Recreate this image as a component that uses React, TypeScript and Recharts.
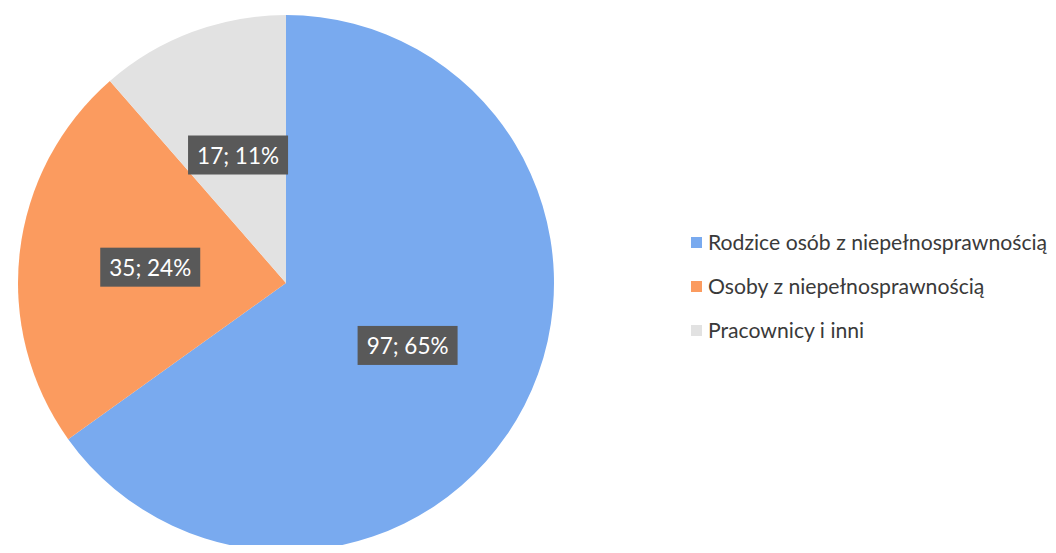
import React from "react";
import { PieChart, Pie, Cell, Legend } from "recharts";

const categories = [
  "Rodzice osób z niepełnosprawnością",
  "Osoby z niepełnosprawnością",
  "Pracownicy i inni",
];
const counts = [97, 35, 17];
const percents = [65, 24, 11];
const colors = ["#79AAEF", "#FB9B5F", "#E2E2E2"];

const data = categories.map((name, i) => ({
  name,
  value: counts[i],
  pct: percents[i],
}));

const RAD = Math.PI / 180;
const FONT = "Lato, 'Open Sans', sans-serif";

const renderLabel = (props: any) => {
  const { cx, cy, midAngle, outerRadius, index } = props;
  const r = outerRadius * 0.51;
  const x = cx + r * Math.cos(-midAngle * RAD);
  const y = cy + r * Math.sin(-midAngle * RAD);
  const d = data[index];
  const w = 100;
  const h = 39;
  return (
    <g>
      <rect x={x - w / 2} y={y - h / 2} width={w} height={h} fill="#595959" />
      <text
        x={x}
        y={y}
        textAnchor="middle"
        dominantBaseline="central"
        fill="#ffffff"
        fontSize={22.5}
        fontFamily={FONT}
      >
        {`${d.value}; ${d.pct}%`}
      </text>
    </g>
  );
};

const renderLegend = () => (
  <div style={{ fontFamily: FONT, whiteSpace: "nowrap" }}>
    {categories.map((c, i) => (
      <div
        key={c}
        style={{
          display: "flex",
          alignItems: "center",
          height: 44,
          fontSize: 21.2,
          color: "#3a3a3a",
          whiteSpace: "nowrap",
        }}
      >
        <span
          style={{
            display: "inline-block",
            flex: "none",
            width: 11,
            height: 11,
            background: colors[i],
            marginRight: 6,
          }}
        />
        <span style={{ whiteSpace: "nowrap" }}>{c}</span>
      </div>
    ))}
  </div>
);

export default function App() {
  return (
    <div style={{ width: 1048, height: 537, background: "#fff" }}>
      <PieChart width={1048} height={537} margin={{ top: 0, right: 0, bottom: 0, left: 0 }}>
        <Pie
          data={data}
          dataKey="value"
          nameKey="name"
          cx={278}
          cy={275}
          outerRadius={268}
          startAngle={90}
          endAngle={-270}
          stroke="none"
          label={renderLabel}
          labelLine={false}
          isAnimationActive={false}
        >
          {data.map((d, i) => (
            <Cell key={d.name} fill={colors[i]} />
          ))}
        </Pie>
        <Legend
          layout="vertical"
          verticalAlign="top"
          align="right"
          content={renderLegend}
          wrapperStyle={{ left: 683, top: 212, width: 365 }}
        />
      </PieChart>
    </div>
  );
}
